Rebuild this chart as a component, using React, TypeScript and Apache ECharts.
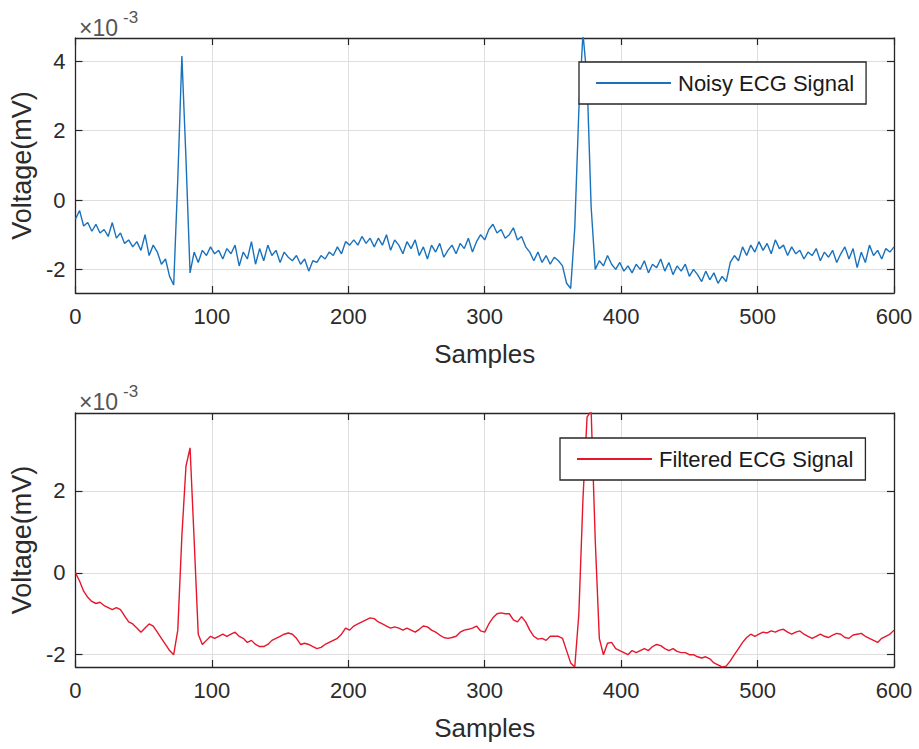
import React, { useEffect, useRef } from "react";
import * as echarts from "echarts";

// Sample index step between consecutive stored values
const SAMPLE_STEP = 3;
const X_MIN = 0;
const X_MAX = 600;
const X_INTERVAL = 100;

// Y tick values (in units of 10^-3 mV)
const noisyYTicks = [-2, 0, 2, 4];
const filteredYTicks = [-2, 0, 2];
const noisyYRange = [-2.68, 4.67];
const filteredYRange = [-2.3, 3.9];

const SERIES_NAMES = ["Noisy ECG Signal", "Filtered ECG Signal"];

// Noisy ECG signal, samples 0,3,6,...,600 (x 10^-3 mV)
const noisyValues = [
  -0.55, -0.3, -0.75, -0.65, -0.9, -0.7, -0.95, -0.85, -1.05, -0.65, // 0
  -1.1, -0.95, -1.25, -1.15, -1.35, -1.2, -1.45, -1.0, -1.6, -1.3, // 30
  -1.5, -1.85, -1.7, -2.2, -2.45, 0.6, 4.15, 1.2, -2.1, -1.5, // 60
  -1.8, -1.45, -1.6, -1.35, -1.55, -1.45, -1.7, -1.4, -1.55, -1.3, // 90
  -1.9, -1.5, -1.7, -1.2, -1.85, -1.4, -1.75, -1.3, -1.6, -1.45, // 120
  -1.8, -1.5, -1.65, -1.75, -1.6, -1.85, -1.7, -2.05, -1.75, -1.8, // 150
  -1.6, -1.7, -1.5, -1.6, -1.35, -1.55, -1.2, -1.3, -1.15, -1.3, // 180
  -1.05, -1.25, -1.1, -1.35, -1.1, -1.3, -1.0, -1.45, -1.15, -1.3, // 210
  -1.55, -1.2, -1.4, -1.15, -1.6, -1.35, -1.7, -1.3, -1.5, -1.25, // 240
  -1.65, -1.45, -1.3, -1.55, -1.25, -1.4, -1.1, -1.5, -1.2, -1.0, // 270
  -1.15, -0.85, -0.7, -0.95, -0.85, -1.1, -1.0, -0.8, -1.15, -1.05, // 300
  -1.35, -1.5, -1.75, -1.5, -1.8, -1.6, -1.85, -1.65, -1.75, -1.9, // 330
  -2.4, -2.55, -0.8, 2.6, 4.8, 3.5, -0.2, -2.0, -1.75, -1.9, // 360
  -1.6, -1.85, -2.0, -1.8, -2.05, -1.9, -2.1, -1.85, -2.0, -1.75, // 390
  -2.1, -1.85, -1.95, -1.7, -2.05, -1.8, -2.15, -1.9, -2.05, -1.85, // 420
  -2.2, -2.0, -2.15, -2.35, -2.05, -2.3, -2.1, -2.4, -2.2, -2.35, // 450
  -1.8, -1.6, -1.75, -1.35, -1.6, -1.3, -1.5, -1.2, -1.45, -1.25, // 480
  -1.55, -1.15, -1.4, -1.3, -1.6, -1.35, -1.55, -1.45, -1.7, -1.5, // 510
  -1.6, -1.4, -1.75, -1.5, -1.65, -1.45, -1.8, -1.55, -1.35, -1.7, // 540
  -1.4, -1.95, -1.5, -1.8, -1.3, -1.6, -1.45, -1.7, -1.4, -1.5, // 570
  -1.35, // 600
];

// Filtered ECG signal, samples 0,3,6,...,600 (x 10^-3 mV)
const filteredValues = [
  0, -0.2, -0.45, -0.6, -0.7, -0.75, -0.72, -0.8, -0.85, -0.9, // 0
  -0.85, -0.9, -1.05, -1.2, -1.25, -1.35, -1.45, -1.35, -1.25, -1.3, // 30
  -1.45, -1.6, -1.75, -1.9, -2.0, -1.4, 0.9, 2.6, 3.05, 0.8, // 60
  -1.5, -1.75, -1.65, -1.55, -1.6, -1.55, -1.5, -1.55, -1.5, -1.45, // 90
  -1.55, -1.6, -1.7, -1.65, -1.75, -1.8, -1.8, -1.75, -1.65, -1.6, // 120
  -1.55, -1.5, -1.47, -1.5, -1.6, -1.75, -1.72, -1.75, -1.8, -1.85, // 150
  -1.82, -1.75, -1.7, -1.65, -1.6, -1.5, -1.35, -1.4, -1.3, -1.25, // 180
  -1.2, -1.15, -1.1, -1.12, -1.2, -1.25, -1.3, -1.35, -1.32, -1.35, // 210
  -1.4, -1.35, -1.4, -1.45, -1.38, -1.3, -1.32, -1.4, -1.45, -1.52, // 240
  -1.58, -1.6, -1.58, -1.55, -1.45, -1.4, -1.38, -1.35, -1.3, -1.42, // 270
  -1.45, -1.25, -1.1, -1.0, -0.98, -1.0, -1.0, -1.15, -1.2, -1.07, // 300
  -1.2, -1.4, -1.55, -1.62, -1.6, -1.65, -1.55, -1.55, -1.55, -1.6, // 330
  -1.9, -2.2, -2.3, -1.0, 1.8, 3.8, 3.95, 0.8, -1.6, -2.0, // 360
  -1.72, -1.7, -1.85, -1.9, -1.95, -2.0, -1.9, -1.95, -1.9, -1.85, // 390
  -1.9, -1.8, -1.75, -1.78, -1.85, -1.9, -1.85, -1.92, -1.95, -1.95, // 420
  -2.0, -2.0, -2.05, -2.08, -2.05, -2.1, -2.2, -2.25, -2.3, -2.28, // 450
  -2.15, -2.0, -1.85, -1.7, -1.58, -1.5, -1.55, -1.5, -1.45, -1.47, // 480
  -1.42, -1.45, -1.4, -1.38, -1.45, -1.5, -1.45, -1.42, -1.5, -1.55, // 510
  -1.6, -1.55, -1.5, -1.55, -1.58, -1.52, -1.48, -1.5, -1.58, -1.6, // 540
  -1.52, -1.5, -1.48, -1.55, -1.6, -1.65, -1.7, -1.6, -1.55, -1.5, // 570
  -1.4, // 600
];

const FONT = "'Liberation Sans', Arial, Helvetica, sans-serif";
const AXIS_COLOR = "#262626";
const TEXT_COLOR = "#2b2b2b";
const GRID_COLOR = "#dedede";
const BLUE = "#1a72bd";
const RED = "#e8162c";

function buildXAxes(gridIndex: number) {
  const common = {
    gridIndex,
    type: "value" as const,
    min: X_MIN,
    max: X_MAX,
    interval: X_INTERVAL,
    axisLine: { show: true, onZero: false, lineStyle: { color: AXIS_COLOR, width: 1.3 } },
    axisTick: { show: true, inside: true, length: 7, lineStyle: { color: AXIS_COLOR, width: 1.2 } },
  };
  return [
    {
      ...common,
      position: "bottom" as const,
      axisLabel: { show: true, fontSize: 22, color: TEXT_COLOR, fontFamily: FONT, margin: 12 },
      splitLine: { show: true, lineStyle: { color: GRID_COLOR, width: 1 } },
      name: "Samples",
      nameLocation: "middle" as const,
      nameGap: 48,
      nameTextStyle: { fontSize: 26, color: TEXT_COLOR, fontFamily: FONT },
    },
    {
      ...common,
      position: "top" as const,
      axisLabel: { show: false },
      splitLine: { show: false },
    },
  ];
}

function buildYAxes(gridIndex: number, range: number[], ticks: number[]) {
  const common = {
    gridIndex,
    type: "value" as const,
    min: range[0],
    max: range[1],
    axisLine: { show: true, onZero: false, lineStyle: { color: AXIS_COLOR, width: 1.3 } },
    axisTick: {
      show: true,
      inside: true,
      length: 7,
      customValues: ticks,
      lineStyle: { color: AXIS_COLOR, width: 1.2 },
    },
  };
  return [
    {
      ...common,
      position: "left" as const,
      axisLabel: {
        show: true,
        customValues: ticks,
        fontSize: 22,
        color: TEXT_COLOR,
        fontFamily: FONT,
        margin: 10,
      },
      splitLine: { show: true, lineStyle: { color: GRID_COLOR, width: 1 } },
      name: "Voltage(mV)",
      nameLocation: "middle" as const,
      nameGap: 40,
      nameTextStyle: { fontSize: 27, color: TEXT_COLOR, fontFamily: FONT },
    },
    {
      ...common,
      position: "right" as const,
      axisLabel: { show: false },
      splitLine: { show: false },
    },
  ];
}

function exponentLabel(top: number) {
  return [
    {
      type: "text",
      left: 79,
      top: top,
      style: { text: "×10", fontSize: 23, fill: "#555", fontFamily: FONT },
    },
    {
      type: "text",
      left: 123,
      top: top - 7,
      style: { text: "-3", fontSize: 17, fill: "#555", fontFamily: FONT },
    },
  ];
}

export default function App() {
  const ref = useRef<HTMLDivElement>(null);

  useEffect(() => {
    if (!ref.current) return;
    const chart = echarts.init(ref.current, undefined, { renderer: "svg" });

    const noisyData = noisyValues.map((v, i) => [i * SAMPLE_STEP, v]);
    const filteredData = filteredValues.map((v, i) => [i * SAMPLE_STEP, v]);

    const legendCommon = {
      orient: "horizontal" as const,
      padding: [10, 12, 10, 17],
      icon: "rect",
      itemWidth: 75,
      itemHeight: 2,
      borderColor: AXIS_COLOR,
      borderWidth: 1.3,
      backgroundColor: "#ffffff",
      textStyle: { fontSize: 22, color: "#1a1a1a", fontFamily: FONT, padding: [0, 0, 0, 2] },
      selectedMode: false,
      z: 10,
    };

    chart.setOption({
      animation: false,
      backgroundColor: "#ffffff",
      textStyle: { fontFamily: FONT },
      grid: [
        { left: 75, top: 38, width: 819, height: 255, containLabel: false },
        { left: 75, top: 413, width: 819, height: 254, containLabel: false },
      ],
      xAxis: [...buildXAxes(0), ...buildXAxes(1)],
      yAxis: [
        ...buildYAxes(0, noisyYRange, noisyYTicks),
        ...buildYAxes(1, filteredYRange, filteredYTicks),
      ],
      legend: [
        { ...legendCommon, left: 579, top: 62, data: [SERIES_NAMES[0]] },
        { ...legendCommon, left: 560, top: 438, data: [SERIES_NAMES[1]] },
      ],
      graphic: [...exponentLabel(16), ...exponentLabel(390)],
      series: [
        {
          name: SERIES_NAMES[0],
          type: "line",
          xAxisIndex: 0,
          yAxisIndex: 0,
          data: noisyData,
          symbol: "none",
          clip: true,
          lineStyle: { color: BLUE, width: 1.4 },
          itemStyle: { color: BLUE },
        },
        {
          name: SERIES_NAMES[1],
          type: "line",
          xAxisIndex: 2,
          yAxisIndex: 2,
          data: filteredData,
          symbol: "none",
          clip: true,
          lineStyle: { color: RED, width: 1.4 },
          itemStyle: { color: RED },
        },
      ],
    });

    return () => chart.dispose();
  }, []);

  return (
    <div
      ref={ref}
      style={{ position: "absolute", left: 0, top: 0, width: 919, height: 749, background: "#fff" }}
    />
  );
}
